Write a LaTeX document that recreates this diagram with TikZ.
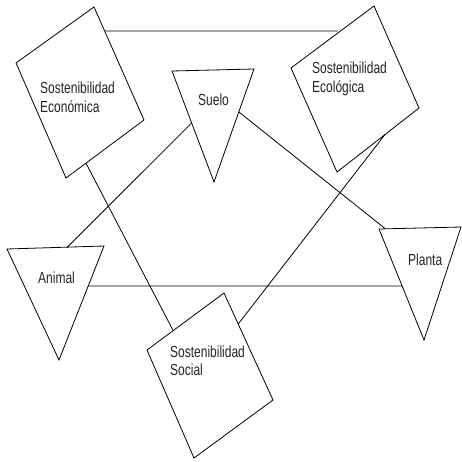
\documentclass[tikz,border=0pt]{standalone}
\usepackage{fontspec}
\setmainfont{Liberation Sans}[FakeStretch=0.75]
\usetikzlibrary{calc}
\tikzset{
  shapeline/.style={draw=black, line width=0.8pt, line join=miter},
  link/.style={draw=black, line width=0.8pt},
  lbl/.style={inner sep=0pt, anchor=west, align=left, font=\fontsize{16}{18.5}\selectfont, text=black!85}
}
\begin{document}
\begin{tikzpicture}[x=1pt,y=-1pt]
\useasboundingbox[fill=white] (0,0) rectangle (462,462);
% --- Sostenibilidad Economica (rotated rectangle)
\coordinate (ecoT) at (94,7);
\coordinate (ecoR) at (144,120);
\coordinate (ecoB) at (66,178);
\coordinate (ecoL) at (16,63);
\draw[shapeline] (ecoT) -- (ecoR) -- (ecoB) -- (ecoL) -- cycle;
\node[lbl] (econ) at (40,97.5) {Sostenibilidad\\Económica};
% --- Sostenibilidad Ecologica
\coordinate (ecoloT) at (374,6);
\coordinate (ecoloR) at (419,108);
\coordinate (ecoloB) at (337,172);
\coordinate (ecoloL) at (291,68);
\draw[shapeline] (ecoloT) -- (ecoloR) -- (ecoloB) -- (ecoloL) -- cycle;
\node[lbl] (ecolo) at (312,79) {Sostenibilidad\\Ecológica};
% --- Sostenibilidad Social
\coordinate (socT) at (224,293);
\coordinate (socR) at (273,400);
\coordinate (socB) at (194,458);
\coordinate (socL) at (147,350);
\draw[shapeline] (socT) -- (socR) -- (socB) -- (socL) -- cycle;
\node[lbl] (social) at (170,361) {Sostenibilidad\\Social};
% --- Suelo triangle
\coordinate (sueA) at (172,71);
\coordinate (sueB) at (254,69);
\coordinate (sueC) at (214,182);
\draw[shapeline] (sueA) -- (sueB) -- (sueC) -- cycle;
\node[lbl] (suelo) at (198,100) {Suelo};
% --- Animal triangle
\coordinate (aniA) at (7,249);
\coordinate (aniB) at (104,246);
\coordinate (aniC) at (59,360);
\draw[shapeline] (aniA) -- (aniB) -- (aniC) -- cycle;
\node[lbl] (animal) at (38,278) {Animal};
% --- Planta triangle
\coordinate (plaA) at (379,229);
\coordinate (plaB) at (461,227);
\coordinate (plaC) at (424,340);
\draw[shapeline] (plaA) -- (plaB) -- (plaC) -- cycle;
\node[lbl] (planta) at (408,260) {Planta};
% --- connectors (end points on the shapes' edges)
\coordinate (c1a) at ($(ecoT)!0.212!(ecoR)$);
\coordinate (c1b) at (338,31);
\draw[link] (c1a) -- (c1b);
\coordinate (c2a) at ($(sueA)!0.468!(sueC)$);
\coordinate (c2b) at (67,247.5);
\draw[link] (c2a) -- (c2b);
\coordinate (c3a) at ($(ecoR)!0.744!(ecoB)$);
\coordinate (c3b) at ($(socT)!0.66!(socL)$);
\draw[link] (c3a) -- (c3b);
\coordinate (c4a) at ($(sueB)!0.38!(sueC)$);
\coordinate (c4b) at (385,228.5);
\draw[link] (c4a) -- (c4b);
\coordinate (c5a) at ($(ecoloR)!0.415!(ecoloB)$);
\coordinate (c5b) at ($(socT)!0.29!(socR)$);
\draw[link] (c5a) -- (c5b);
\coordinate (c6a) at ($(aniB)!0.35!(aniC)$);
\coordinate (c6b) at ($(plaA)!0.513!(plaC)$);
\draw[link] (c6a) -- (c6b);
\end{tikzpicture}
\end{document}
